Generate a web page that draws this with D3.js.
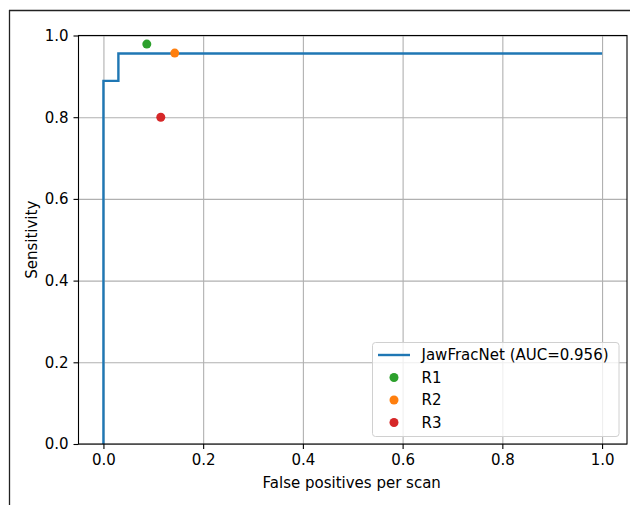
<!DOCTYPE html>
<html lang="en">
<head>
  <meta charset="utf-8">
  <title>FROC</title>
  <script src="https://d3js.org/d3.v7.min.js"></script>
  <style>
    body { margin: 0; background: #fff; }
    svg { display: block; font-family: "DejaVu Sans", sans-serif; }
    .grid line { stroke: #b0b0b0; stroke-width: 1.1; }
    .grid path { display: none; }
    .axis text { font-size: 15px; fill: #000; font-family: "DejaVu Sans", sans-serif; }
    .axis line { stroke: #000; stroke-width: 1.1; }
    .axis path { display: none; }
  </style>
</head>
<body>
  <div id="container"></div>
  <script>
    // step curve (fp per scan, sensitivity)
    var curveX = [0, 0, 0.03, 0.03, 1.0];
    var curveY = [0, 0.889, 0.889, 0.956, 0.956];
    var curveName = "JawFracNet (AUC=0.956)";

    // readers
    var readers = ["R1", "R2", "R3"];
    var readerX = [0.087, 0.143, 0.115];
    var readerY = [0.979, 0.957, 0.80];
    var readerColors = ["#2ca02c", "#ff7f0e", "#d62728"];

    var ticks = [0, 0.2, 0.4, 0.6, 0.8, 1.0];

    var W = 630, H = 505;
    var plotL = 78.5, plotR = 627, plotT = 35.5, plotB = 444;

    var svg = d3.select("#container").append("svg")
      .attr("width", W).attr("height", H);

    // outer frame of the picture
    svg.append("line").attr("x1", 9).attr("x2", W).attr("y1", 10.5).attr("y2", 10.5)
      .attr("stroke", "#222").attr("stroke-width", 1.3);
    svg.append("line").attr("x1", 9.5).attr("x2", 9.5).attr("y1", 10).attr("y2", H)
      .attr("stroke", "#222").attr("stroke-width", 1.3);

    var x = d3.scaleLinear().domain([-0.05, 1.05]).range([plotL, plotR]);
    var y = d3.scaleLinear().domain([0, 1]).range([plotB, plotT]);

    // grid
    svg.append("g").attr("class", "grid")
      .attr("transform", "translate(0," + plotB + ")")
      .call(d3.axisBottom(x).tickValues(ticks).tickSize(-(plotB - plotT)).tickFormat(""));
    svg.append("g").attr("class", "grid")
      .attr("transform", "translate(" + plotL + ",0)")
      .call(d3.axisLeft(y).tickValues(ticks).tickSize(-(plotR - plotL)).tickFormat(""));

    // axes
    svg.append("g").attr("class", "axis")
      .attr("transform", "translate(0," + plotB + ")")
      .call(d3.axisBottom(x).tickValues(ticks).tickSize(5).tickPadding(5).tickFormat(d3.format(".1f")));
    svg.append("g").attr("class", "axis")
      .attr("transform", "translate(" + plotL + ",0)")
      .call(d3.axisLeft(y).tickValues(ticks).tickSize(5).tickPadding(5).tickFormat(d3.format(".1f")));

    // curve
    var pts = curveX.map(function (d, i) { return [d, curveY[i]]; });
    var line = d3.line().x(function (d) { return x(d[0]); }).y(function (d) { return y(d[1]); });
    svg.append("path").attr("d", line(pts))
      .attr("fill", "none").attr("stroke", "#1f77b4").attr("stroke-width", 2.4);

    // reader points
    svg.selectAll("circle.reader").data(readers).enter().append("circle")
      .attr("class", "reader")
      .attr("cx", function (d, i) { return x(readerX[i]); })
      .attr("cy", function (d, i) { return y(readerY[i]); })
      .attr("r", 4.5)
      .attr("fill", function (d, i) { return readerColors[i]; });

    // spines
    svg.append("rect").attr("x", plotL).attr("y", plotT)
      .attr("width", plotR - plotL).attr("height", plotB - plotT)
      .attr("fill", "none").attr("stroke", "#000").attr("stroke-width", 1.1);

    // labels
    svg.append("text").attr("x", (plotL + plotR) / 2 - 1).attr("y", 488)
      .attr("text-anchor", "middle").attr("font-size", 15).text("False positives per scan");
    svg.append("text")
      .attr("transform", "translate(37," + ((plotT + plotB) / 2) + ") rotate(-90)")
      .attr("text-anchor", "middle").attr("font-size", 15).text("Sensitivity");

    // legend
    var lg = svg.append("g");
    lg.append("rect").attr("x", 372.5).attr("y", 342.5).attr("width", 246.5).attr("height", 94)
      .attr("rx", 3).attr("fill", "#fff").attr("fill-opacity", 0.8)
      .attr("stroke", "#d0d0d0").attr("stroke-width", 1);
    var rowY = [355, 377.5, 400, 422.5];
    lg.append("line").attr("x1", 378).attr("x2", 410).attr("y1", rowY[0]).attr("y2", rowY[0])
      .attr("stroke", "#1f77b4").attr("stroke-width", 2.4);
    lg.append("text").attr("x", 421.5).attr("y", rowY[0]).attr("dy", "0.35em")
      .attr("font-size", 15).text(curveName);
    readers.forEach(function (r, i) {
      lg.append("circle").attr("cx", 394).attr("cy", rowY[i + 1]).attr("r", 4.5)
        .attr("fill", readerColors[i]);
      lg.append("text").attr("x", 421.5).attr("y", rowY[i + 1]).attr("dy", "0.35em")
        .attr("font-size", 15).text(r);
    });
  </script>
</body>
</html>
